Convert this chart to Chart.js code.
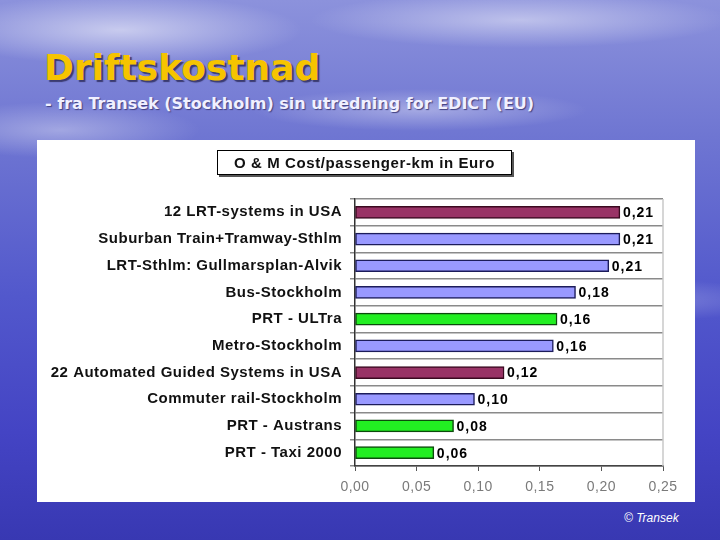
<!DOCTYPE html>
<html>
<head>
<meta charset="utf-8">
<script src="https://cdn.jsdelivr.net/npm/chart.js@4/dist/chart.umd.min.js"></script>
<style>
  html, body { margin: 0; padding: 0; }
  body {
    width: 720px; height: 540px; position: relative; overflow: hidden;
    background:
      radial-gradient(ellipse 260px 50px at 120px 30px, rgba(255,255,255,0.55), rgba(255,255,255,0) 70%),
      radial-gradient(ellipse 300px 40px at 520px 20px, rgba(255,255,255,0.45), rgba(255,255,255,0) 70%),
      radial-gradient(ellipse 240px 30px at 420px 110px, rgba(255,255,255,0.35), rgba(255,255,255,0) 70%),
      radial-gradient(ellipse 200px 40px at 60px 130px, rgba(255,255,255,0.35), rgba(255,255,255,0) 70%),
      radial-gradient(ellipse 200px 30px at 640px 300px, rgba(255,255,255,0.25), rgba(255,255,255,0) 70%),
      linear-gradient(180deg, #8c92dc 0%, #6f76d2 25%, #5258cc 55%, #4444c4 80%, #3838b2 100%);
    font-family: "DejaVu Sans", Verdana, sans-serif;
  }
  #heading {
    position: absolute; left: 44px; top: 47px; margin: 0;
    font: bold 36px "DejaVu Sans", Verdana, sans-serif;
    color: #f6c400; text-shadow: 2px 2px 1px #3a3a70;
  }
  #sub {
    position: absolute; left: 45px; top: 94px;
    font: bold 16px "DejaVu Sans", Tahoma, sans-serif;
    color: #f0f0ff; text-shadow: 1px 1px 1px #404080;
  }
  #panel {
    position: absolute; left: 37px; top: 140px; width: 658px; height: 362px;
    background: #ffffff;
  }
  #chartTitle {
    position: absolute; left: 180px; top: 10px; width: 295px; height: 25px;
    border: 1px solid #000; box-shadow: 2px 2px 0 #555; background: #fff;
    font: bold 15px "Liberation Sans", Arial, sans-serif; color: #111;
    letter-spacing: 0.6px;
    text-align: center; line-height: 24px; box-sizing: border-box;
  }
  #copy {
    position: absolute; left: 624px; top: 511px;
    font: italic 12px "Liberation Sans", Arial, sans-serif; color: #fff;
  }
</style>
</head>
<body>
<div id="heading">Driftskostnad</div>
<div id="sub">- fra Transek (Stockholm) sin utredning for EDICT (EU)</div>
<div id="panel">
  <canvas id="c" width="658" height="362"></canvas>
  <div id="chartTitle">O &amp; M Cost/passenger-km in Euro</div>
</div>
<div id="copy">© Transek</div>
<script>
// kategorier, verdier og viste etiketter
const categories = [
  '12 LRT-systems in USA',
  'Suburban Train+Tramway-Sthlm',
  'LRT-Sthlm: Gullmarsplan-Alvik',
  'Bus-Stockholm',
  'PRT - ULTra',
  'Metro-Stockholm',
  '22 Automated Guided Systems in USA',
  'Commuter rail-Stockholm',
  'PRT - Austrans',
  'PRT - Taxi 2000',
];
const costValues = [0.215, 0.215, 0.206, 0.179, 0.164, 0.161, 0.121, 0.097, 0.080, 0.064];
const valueLabels = ['0,21', '0,21', '0,21', '0,18', '0,16', '0,16', '0,12', '0,10', '0,08', '0,06'];
const systemTypes = ['usa', 'sthlm', 'sthlm', 'sthlm', 'prt', 'sthlm', 'usa', 'sthlm', 'prt', 'prt'];
const xTicks = [0, 0.05, 0.10, 0.15, 0.20, 0.25];

const FILL = { usa: '#993366', sthlm: '#9999ff', prt: '#22ee22' };
const EDGE = { usa: '#3a0a20', sthlm: '#1c1c5a', prt: '#0c4a0c' };

// Excel-aktig sperret tekst på hele lerretet
const spacingPlugin = {
  id: 'spacing',
  beforeDraw(chart) { chart.ctx.letterSpacing = '0.5px'; },
};

// verdi-etiketter til høyre for hver stolpe + ramme rundt plottet
const valueLabelPlugin = {
  id: 'valueLabels',
  afterDatasetsDraw(chart) {
    const ctx = chart.ctx;
    const meta = chart.getDatasetMeta(0);
    ctx.save();
    ctx.font = 'bold 14px "Liberation Sans", Arial, sans-serif';
    ctx.letterSpacing = '1px';
    ctx.fillStyle = '#000';
    ctx.textBaseline = 'middle';
    meta.data.forEach((bar, i) => {
      ctx.fillText(valueLabels[i], bar.x + 3, bar.y + 1);
    });
    ctx.restore();
  },
  beforeDatasetsDraw(chart) {
    const { ctx, chartArea: a } = chart;
    ctx.save();
    ctx.strokeStyle = '#c8c8c8';
    ctx.lineWidth = 1.5;
    ctx.beginPath();
    ctx.moveTo(a.right, a.top);
    ctx.lineTo(a.right, a.bottom);
    ctx.stroke();
    ctx.restore();
  },
};

new Chart(document.getElementById('c'), {
  type: 'bar',
  data: {
    labels: categories,
    datasets: [{
      data: costValues,
      backgroundColor: systemTypes.map((t) => FILL[t]),
      borderColor: systemTypes.map((t) => EDGE[t]),
      borderWidth: 1.5,
      borderSkipped: false,
      barThickness: 12,
    }],
  },
  options: {
    indexAxis: 'y',
    responsive: false,
    animation: false,
    layout: { padding: { top: 59, right: 32, left: 0, bottom: 0 } },
    plugins: { legend: { display: false }, tooltip: { enabled: false } },
    scales: {
      x: {
        min: 0, max: 0.25,
        afterBuildTicks: (scale) => { scale.ticks = xTicks.map((v) => ({ value: v })); },
        afterFit: (scale) => { scale.height = 36; },
        grid: { drawOnChartArea: false, tickLength: 5, color: '#555' },
        border: { color: '#444', width: 1.5 },
        ticks: {
          color: '#7a7a7a', padding: 8,
          font: { family: '"Liberation Sans", Arial, sans-serif', size: 14 },
          callback: (v) => Number(v).toFixed(2).replace('.', ','),
        },
      },
      y: {
        afterFit: (scale) => { scale.width = 318; },
        grid: { offset: true, color: '#8a8a8a', lineWidth: 1.5, tickLength: 5 },
        border: { color: '#333', width: 1.5 },
        ticks: {
          color: '#111', padding: 8,
          font: { family: '"Liberation Sans", Arial, sans-serif', size: 15, weight: 'bold' },
        },
      },
    },
  },
  plugins: [spacingPlugin, valueLabelPlugin],
});
</script>
</body>
</html>
